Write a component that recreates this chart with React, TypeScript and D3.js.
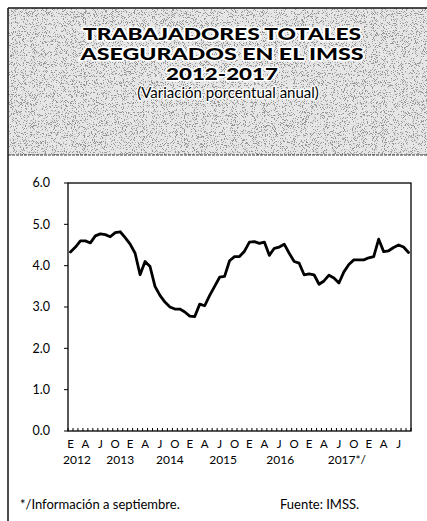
import React from "react";
import * as d3 from "d3";

// variación porcentual anual, ene-2012 .. sep-2017
const values = [
  4.33, 4.45, 4.6, 4.6, 4.55, 4.72, 4.77, 4.75, 4.7, 4.8, 4.82, 4.68,
  4.52, 4.3, 3.78, 4.1, 3.98, 3.5, 3.28, 3.12, 3.0, 2.95, 2.95, 2.88,
  2.78, 2.77, 3.07, 3.03, 3.28, 3.5, 3.72, 3.74, 4.12, 4.22, 4.22, 4.35,
  4.57, 4.58, 4.54, 4.57, 4.25, 4.42, 4.45, 4.52, 4.3, 4.1, 4.06, 3.78,
  3.8, 3.78, 3.55, 3.63, 3.77, 3.7, 3.58, 3.85, 4.03, 4.14, 4.14, 4.14,
  4.19, 4.22, 4.64, 4.34, 4.36, 4.44, 4.5, 4.45, 4.32,
];
const monthLetters = ["E", "A", "J", "O"];
const yearLabels = ["2012", "2013", "2014", "2015", "2016", "2017*/"];
const yearLabelMonth = [1.3, 10, 20, 30.7, 42.2, 55.6];
const yTicks = [0, 1, 2, 3, 4, 5, 6];
const titleLines = ["TRABAJADORES TOTALES", "ASEGURADOS EN EL IMSS", "2012-2017"];
const titleWidths = [278, 283, 112];
const subtitle = "(Variación porcentual anual)";
const footLeft = "*/Información a septiembre.";
const footRight = "Fuente: IMSS.";

const W = 427;
const H = 521;
const font = "Lato, 'Open Sans', sans-serif";

export default function App() {
  const plot = { left: 68, right: 411, top: 183, bottom: 431 };
  const months = d3.range(values.length);

  const x = d3
    .scaleBand<number>()
    .domain(months)
    .range([plot.left, plot.right]);
  const bw = x.bandwidth();
  const cx = (i: number) => (x(i) as number) + bw / 2;
  const y = d3.scaleLinear().domain([0, 6]).range([plot.bottom, plot.top]);

  const line = d3
    .line<number>()
    .x((_, i) => cx(i))
    .y((d) => y(d));

  const quarterIdx = months.filter((i) => i % 3 === 0);
  const monthPos = d3
    .scaleLinear()
    .domain([0, values.length - 1])
    .range([cx(0), cx(values.length - 1)]);

  return (
    <div style={{ position: "absolute", left: 0, top: 0 }}>
      <svg width={W} height={H} style={{ display: "block" }}>
        <defs>
          <filter id="grain" x="0" y="0" width="1" height="1">
            <feTurbulence
              type="fractalNoise"
              baseFrequency="1.1"
              numOctaves="2"
              seed="7"
              result="n"
            />
            <feColorMatrix
              in="n"
              type="matrix"
              values="0 0 0 0 0.3  0 0 0 0 0.3  0 0 0 0 0.3  16 0 0 0 -9.2"
            />
          </filter>
        </defs>
        <rect width={W} height={H} fill="#fff" />

        {/* encabezado */}
        <rect x={8} y={8} width={W - 8} height={147} fill="#e6e6e6" />
        <rect x={8} y={8} width={W - 8} height={147} fill="#000" filter="url(#grain)" />
        <line x1={8} x2={W} y1={8} y2={8} stroke="#111" strokeWidth={1.5} />
        <line x1={8} x2={W} y1={155} y2={155} stroke="#333" strokeWidth={1} strokeDasharray="3 1" />
        <line x1={8} x2={8} y1={8} y2={H} stroke="#111" strokeWidth={1.5} />

        {titleLines.map((t, i) => (
          <text
            key={t}
            x={222}
            y={[40, 60, 80][i]}
            textAnchor="middle"
            fontFamily={font}
            fontWeight={900}
            fontSize={16.5}
            textLength={titleWidths[i]}
            lengthAdjust="spacingAndGlyphs"
            fill="#000"
            stroke="#fff"
            strokeWidth={3}
            paintOrder="stroke"
            strokeLinejoin="round"
          >
            {t}
          </text>
        ))}
        <text
          x={228}
          y={98}
          textAnchor="middle"
          fontFamily={font}
          fontSize={15}
          fill="#000"
          stroke="#fff"
          strokeWidth={2.5}
          paintOrder="stroke"
          strokeLinejoin="round"
        >
          {subtitle}
        </text>

        {/* marco del gráfico */}
        <rect
          x={plot.left}
          y={plot.top}
          width={plot.right - plot.left}
          height={plot.bottom - plot.top}
          fill="none"
          stroke="#000"
          strokeWidth={1.3}
        />

        {/* eje y */}
        {yTicks.map((t) => (
          <g key={t}>
            <line x1={plot.left - 4} x2={plot.left} y1={y(t)} y2={y(t)} stroke="#000" />
            <text
              x={50}
              y={y(t)}
              dy="0.35em"
              textAnchor="end"
              fontFamily={font}
              fontSize={12.5}
              fill="#000"
            >
              {t.toFixed(1)}
            </text>
          </g>
        ))}

        {/* eje x: marcas mensuales */}
        {d3.range(values.length + 1).map((i) => {
          const xx = plot.left + i * bw;
          return (
            <line
              key={i}
              x1={xx}
              x2={xx}
              y1={plot.bottom}
              y2={plot.bottom - 3}
              stroke="#000"
              strokeWidth={1}
            />
          );
        })}
        {quarterIdx.map((i) => (
          <text
            key={i}
            x={cx(i)}
            y={448}
            textAnchor="middle"
            fontFamily={font}
            fontSize={11.5}
            fill="#000"
          >
            {monthLetters[(i / 3) % 4]}
          </text>
        ))}
        {yearLabels.map((t, i) => (
          <text
            key={t}
            x={monthPos(yearLabelMonth[i])}
            y={464}
            textAnchor="middle"
            fontFamily={font}
            fontSize={12}
            fill="#000"
          >
            {t}
          </text>
        ))}

        {/* serie */}
        <path
          d={line(values) ?? ""}
          fill="none"
          stroke="#000"
          strokeWidth={2.8}
          strokeLinejoin="round"
          strokeLinecap="round"
        />

        {/* notas */}
        <text x={20} y={509} fontFamily={font} fontSize={13} fill="#000">
          {footLeft}
        </text>
        <text x={280} y={509} fontFamily={font} fontSize={13} fill="#000">
          {footRight}
        </text>
      </svg>
    </div>
  );
}
